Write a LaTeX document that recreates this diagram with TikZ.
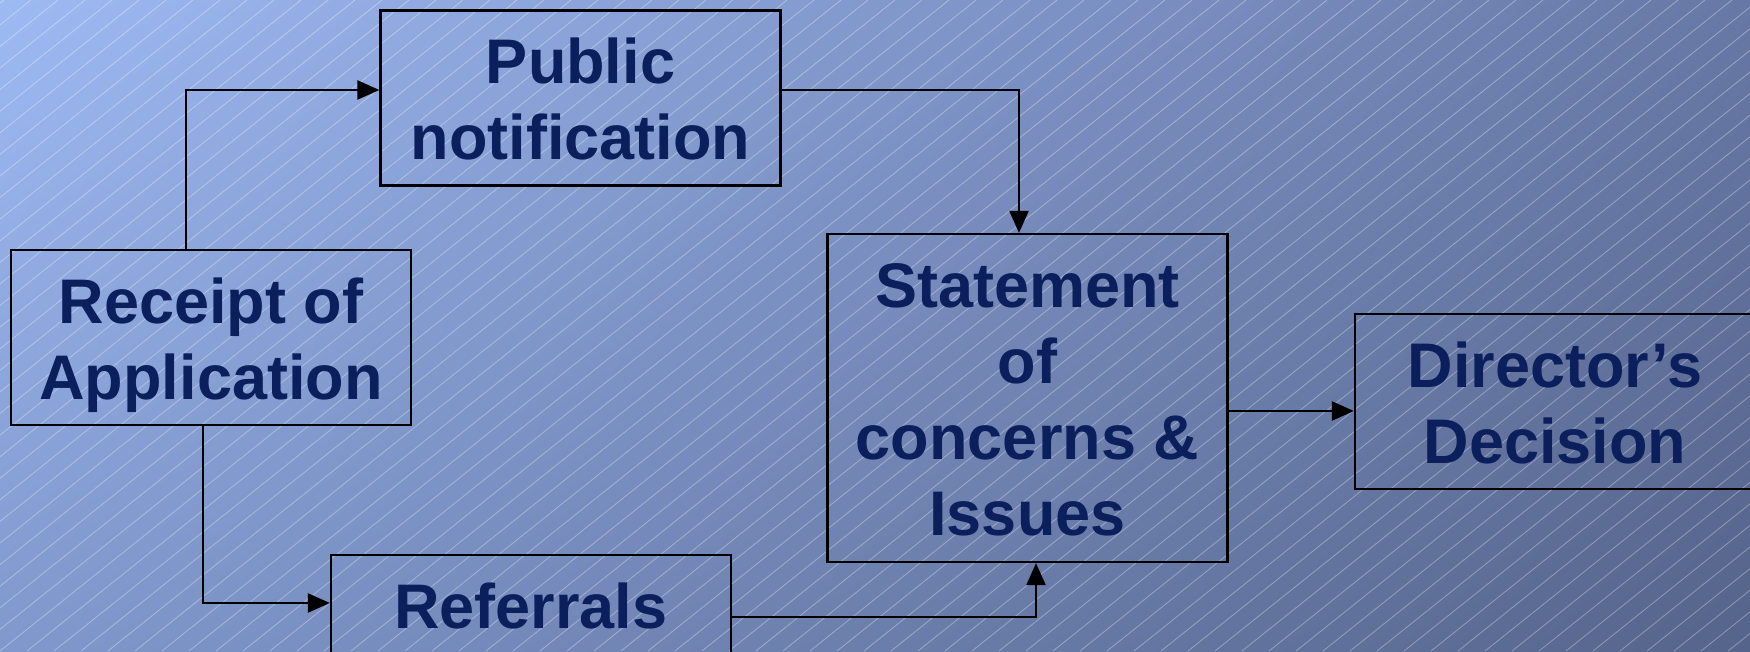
\documentclass[tikz,border=0pt]{standalone}
\usepackage{fontspec}
\setmainfont{Liberation Sans}
\usetikzlibrary{arrows.meta,shadings}
\definecolor{txtnavy}{HTML}{0B1F5C}
\definecolor{bgUL}{HTML}{9EBAF3}
\definecolor{bgUR}{HTML}{6778A6}
\definecolor{bgLL}{HTML}{8098CC}
\definecolor{bgLR}{HTML}{55648A}
\newcommand\lnstrut{\rule[-14.5pt]{0pt}{76pt}}
\tikzset{
  stepbox/.style={draw=black, line width=2.2pt, minimum width=400pt, minimum height=175pt,
    inner sep=0pt, align=center, text=txtnavy,
    font=\fontsize{63}{76}\selectfont\bfseries},
  arr/.style={draw=black, line width=2.2pt, -{Triangle[length=22pt,width=19pt]}},
  hatch/.style={draw=white, opacity=0.3, line width=0.9pt}
}
\begin{document}
\begin{tikzpicture}[x=1pt,y=-1pt]
\useasboundingbox (0,0) rectangle (1750,651);
\shade[upper left=bgUL, upper right=bgUR, lower left=bgLL, lower right=bgLR] (0,0) rectangle (1750,651);
\begin{scope}
\clip (0,0) rectangle (1750,651);
\foreach \i in {-32,...,66} \draw[hatch] (\i*27,651) -- ++(814,-651);
\node[stepbox] (pub) at (580.5,98) {\lnstrut Public\\\lnstrut notification};
\node[stepbox] (rec) at (211,337.5) {\lnstrut Receipt of\\\lnstrut Application};
\node[stepbox] (ref) at (531,642.5) {\lnstrut Referrals\\\lnstrut};
\node[stepbox, minimum height=328pt] (stm) at (1027.5,398) {\lnstrut Statement\\\lnstrut of\\\lnstrut concerns \&\\\lnstrut Issues};
\node[stepbox] (dir) at (1555,401.5) {\lnstrut Director’s\\\lnstrut Decision};
\draw[arr] ([xshift=-25pt]rec.north) |- ([yshift=8pt]pub.west);
\draw[arr] ([xshift=-8pt]rec.south) |- ([yshift=39.5pt]ref.west);
\draw[arr] ([yshift=8pt]pub.east) -| ([xshift=-8.5pt]stm.north);
\draw[arr] ([yshift=25.5pt]ref.east) -| ([xshift=8.5pt]stm.south);
\draw[arr] ([yshift=-13pt]stm.east) coordinate (s1) -- (s1 -| dir.west);
\end{scope}
\end{tikzpicture}
\end{document}
